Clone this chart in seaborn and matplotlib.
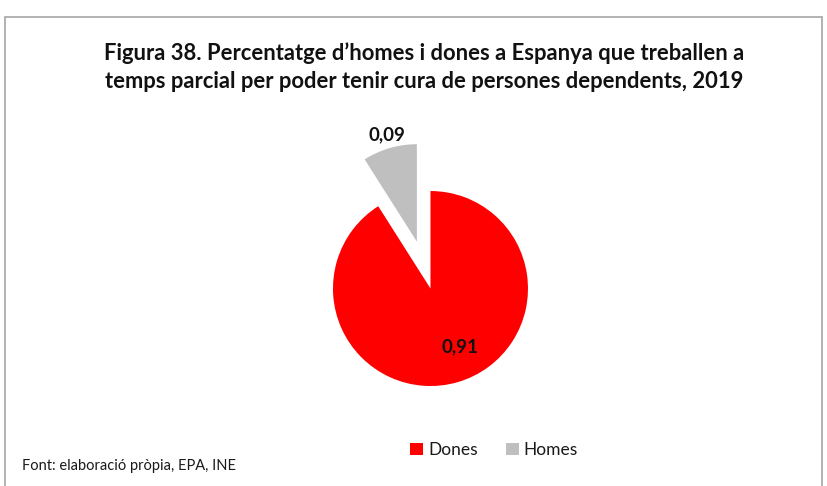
import matplotlib
matplotlib.use("Agg")
import matplotlib.pyplot as plt
from matplotlib.patches import Rectangle
import numpy as np
import seaborn as sns

# Data
categories = ["Dones", "Homes"]
values = [0.91, 0.09]
value_labels = ["0,91", "0,09"]
colors = ["#ff0000", "#bfbfbf"]

title = ("Figura 38. Percentatge d\u2019homes i dones a Espanya que treballen a\n"
         "temps parcial per poder tenir cura de persones dependents, 2019")
source = "Font: elaboració pròpia, EPA, INE"

sns.set_theme(style="white")
plt.rcParams["font.family"] = ["Lato", "DejaVu Sans"]

fig = plt.figure(figsize=(8.28, 4.86), dpi=100)
fig.patch.set_facecolor("white")

# Chart frame (open at the bottom edge of the image)
fig.add_artist(Rectangle((5 / 828, -0.05), 817 / 828, 0.05 + 1 - 17 / 486,
                         transform=fig.transFigure, fill=False,
                         edgecolor="#a6a6a6", linewidth=1.2))

ax = fig.add_axes([0.2844, 0.0051, 390 / 828, 390 / 486])

wedges, _ = ax.pie(values, colors=colors, startangle=90, counterclock=False,
                   explode=[0, 0.5], radius=1.0,
                   wedgeprops=dict(linewidth=0))
ax.set_xlim(-2, 2)
ax.set_ylim(-2, 2)
ax.set_aspect("equal")
ax.axis("off")

# Value labels
label_pos = [(0.30, -0.60), (-0.449, 1.574)]
for (x, y), txt in zip(label_pos, value_labels):
    ax.text(x, y, txt, ha="center", va="center", fontsize=13.5,
            fontweight="bold", color="#111111")

fig.text(0.512, 0.862, title, ha="center", va="center", fontsize=15.8,
         fontweight="bold", color="#111111", linespacing=1.42)

fig.text(22 / 828, 1 - 466 / 486, source, ha="left", va="center",
         fontsize=10.5, color="#1a1a1a")

leg = fig.legend(wedges, categories, loc="center",
                 bbox_to_anchor=(494 / 828, 1 - 450 / 486), ncol=2,
                 frameon=False, fontsize=12.5, handlelength=0.75,
                 handleheight=0.75, handletextpad=0.3, columnspacing=1.6)
for t in leg.get_texts():
    t.set_color("#1a1a1a")

fig.savefig("out.png", dpi=100, facecolor="white")
